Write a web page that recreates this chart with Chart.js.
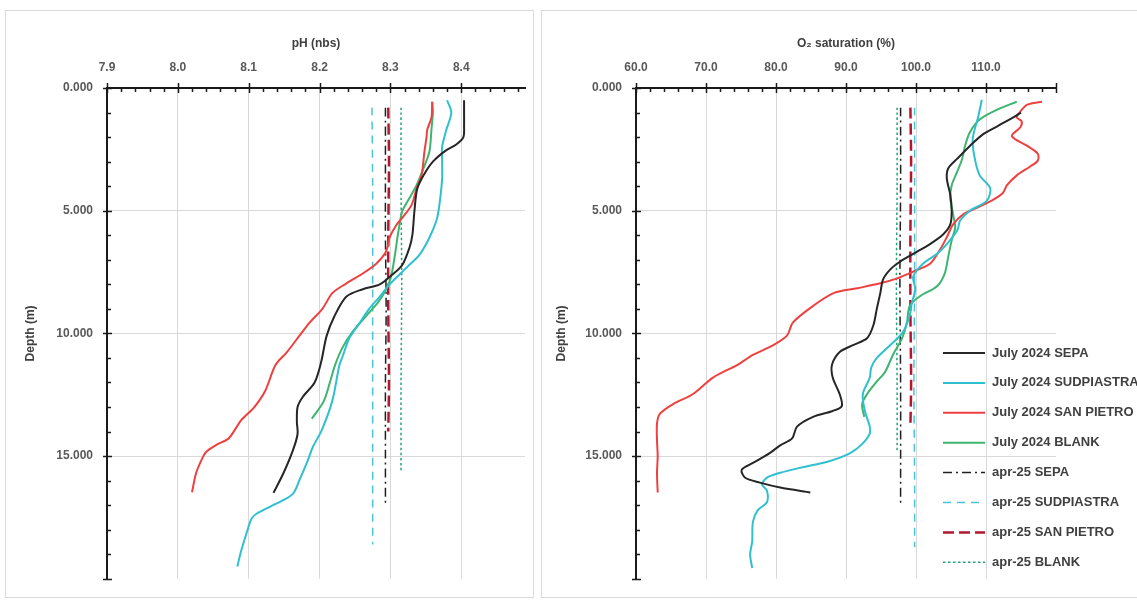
<!DOCTYPE html>
<html>
<head>
<meta charset="utf-8">
<script src="https://cdn.jsdelivr.net/npm/chart.js@4/dist/chart.umd.min.js"></script>
<style>
  html, body { margin: 0; padding: 0; background: #fff; }
  body { width: 1137px; height: 600px; position: relative; overflow: hidden; }
  .panel { position: absolute; border: 1px solid #d9d9d9; box-sizing: border-box; }
  canvas { position: absolute; top: 0; }
</style>
</head>
<body>
<div class="panel" style="left:5px;top:10px;width:529px;height:588px"></div>
<div class="panel" style="left:541px;top:10px;width:620px;height:588px"></div>
<canvas id="phChart" width="537" height="600" style="left:0"></canvas>
<canvas id="o2Chart" width="600" height="600" style="left:537px"></canvas>
<script>
// ---- axis ticks ----
const depthTicks = [0, 5, 10, 15];
const phTicks = [7.9, 8.0, 8.1, 8.2, 8.3, 8.4];
const o2Ticks = [60, 70, 80, 90, 100, 110];

// ---- series names ----
const seriesNames = [
  'July 2024 SEPA', 'July 2024 SUDPIASTRA', 'July 2024 SAN PIETRO', 'July 2024 BLANK',
  'apr-25 SEPA', 'apr-25 SUDPIASTRA', 'apr-25 SAN PIETRO', 'apr-25 BLANK'
];

// ---- pH profiles (depth in m, pH NBS) ----
const julSepaPhDepth = [0.5, 1.0, 1.5, 2.0, 2.3, 2.55, 3.0, 3.5, 4.1, 5.0, 6.0, 6.5, 7.2, 7.6, 8.0, 8.2, 8.5, 9.3, 10.1, 11.2, 12.0, 12.6, 13.0, 13.6, 14.1, 14.8, 15.7, 16.5];
const julSepaPh      = [8.404, 8.404, 8.404, 8.403, 8.393, 8.378, 8.360, 8.348, 8.338, 8.334, 8.331, 8.327, 8.317, 8.303, 8.285, 8.261, 8.238, 8.221, 8.210, 8.202, 8.193, 8.176, 8.169, 8.168, 8.169, 8.162, 8.149, 8.135];

const julSudPhDepth = [0.5, 1.0, 1.7, 2.4, 3.0, 3.7, 4.8, 5.4, 6.1, 6.8, 7.2, 7.6, 8.0, 8.5, 9.0, 9.6, 10.2, 10.9, 11.3, 12.75, 13.95, 14.6, 15.28, 15.95, 16.55, 16.95, 17.35, 17.55, 17.95, 18.9, 19.5];
const julSudPh      = [8.380, 8.386, 8.379, 8.373, 8.373, 8.373, 8.369, 8.365, 8.355, 8.341, 8.327, 8.313, 8.299, 8.285, 8.270, 8.256, 8.242, 8.233, 8.228, 8.218, 8.203, 8.191, 8.182, 8.172, 8.162, 8.138, 8.111, 8.104, 8.099, 8.089, 8.084];

const julSanPhDepth = [0.56, 1.2, 1.7, 2.0, 2.6, 3.56, 4.08, 4.76, 5.28, 5.6, 6.08, 6.48, 6.76, 7.16, 7.56, 7.96, 8.36, 9.0, 9.56, 10.08, 10.76, 11.28, 12.36, 13.0, 13.55, 14.27, 14.53, 14.8, 15.0, 15.67, 16.47];
const julSanPh      = [8.359, 8.358, 8.352, 8.351, 8.348, 8.344, 8.337, 8.330, 8.317, 8.308, 8.299, 8.296, 8.292, 8.280, 8.261, 8.238, 8.218, 8.204, 8.186, 8.172, 8.154, 8.138, 8.123, 8.108, 8.089, 8.072, 8.055, 8.041, 8.036, 8.026, 8.020];

const julBlankPhDepth = [0.56, 1.0, 1.68, 2.6, 3.4, 3.96, 4.48, 5.0, 5.56, 6.08, 6.88, 7.68, 8.2, 8.76, 9.28, 9.96, 10.6, 11.28, 11.96, 12.76, 13.48];
const julBlankPh      = [8.359, 8.360, 8.358, 8.355, 8.345, 8.337, 8.327, 8.317, 8.313, 8.310, 8.306, 8.301, 8.294, 8.282, 8.266, 8.246, 8.232, 8.222, 8.215, 8.206, 8.189];

const aprSepaPhDepth = [0.8, 3, 6, 9, 12, 15, 17.0];
const aprSepaPh      = [8.293, 8.293, 8.293, 8.294, 8.293, 8.293, 8.293];
const aprSudPhDepth  = [0.8, 4, 8, 12, 16, 18.6];
const aprSudPh       = [8.274, 8.275, 8.275, 8.275, 8.275, 8.275];
const aprSanPhDepth  = [0.8, 3, 6, 9, 12, 14.0];
const aprSanPh       = [8.297, 8.298, 8.297, 8.297, 8.298, 8.297];
const aprBlankPhDepth = [0.8, 4, 8, 12, 15.6];
const aprBlankPh      = [8.315, 8.315, 8.316, 8.315, 8.315];

// ---- O2 saturation profiles (depth in m, %) ----
const julSepaO2Depth = [1.0, 1.2, 1.56, 1.88, 2.36, 2.88, 3.28, 3.68, 4.36, 5.0, 5.56, 5.96, 6.36, 6.76, 7.08, 7.4, 7.8, 8.36, 9.0, 9.68, 10.2, 10.48, 10.76, 11.28, 11.8, 12.48, 12.96, 13.16, 13.4, 13.8, 14.28, 14.56, 14.88, 15.28, 15.56, 15.88, 16.08, 16.28, 16.48];
const julSepaO2      = [115.0, 113.9, 111.6, 109.6, 107.7, 105.9, 104.6, 104.4, 104.9, 105.1, 104.9, 103.9, 102.0, 99.6, 97.7, 96.3, 95.3, 94.9, 94.4, 93.9, 93.0, 91.0, 89.1, 88.0, 88.1, 89.1, 89.4, 88.1, 85.3, 83.0, 82.3, 80.6, 79.1, 76.7, 75.1, 75.6, 77.7, 80.6, 84.9];

const julSudO2Depth = [0.48, 1.16, 2.08, 2.88, 3.56, 4.08, 4.6, 5.0, 5.4, 5.8, 6.36, 6.76, 7.16, 7.68, 8.2, 8.76, 9.28, 9.96, 10.48, 11.0, 11.4, 11.8, 12.48, 13.16, 13.8, 14.08, 14.48, 14.88, 15.2, 15.48, 15.68, 15.88, 16.16, 16.4, 16.88, 17.2, 17.68, 18.48, 19.0, 19.56];
const julSudO2      = [109.4, 108.9, 108.1, 108.4, 109.1, 110.6, 110.1, 107.7, 106.3, 105.9, 104.4, 103.0, 101.0, 99.6, 99.9, 99.4, 99.1, 98.1, 96.3, 94.4, 93.6, 93.4, 92.4, 92.7, 93.4, 93.4, 92.4, 90.6, 87.7, 83.4, 80.6, 78.7, 78.0, 78.7, 78.7, 77.4, 76.7, 76.6, 76.3, 76.6];

const julSanO2Depth = [0.56, 0.68, 0.96, 1.2, 1.36, 1.6, 1.96, 2.36, 2.68, 2.96, 3.2, 3.56, 3.96, 4.28, 4.56, 4.88, 5.16, 5.56, 6.08, 6.6, 7.16, 7.48, 7.76, 7.96, 8.16, 8.35, 8.88, 9.56, 10.08, 10.48, 10.88, 11.28, 11.8, 12.48, 12.88, 13.28, 13.68, 14.36, 15.0, 15.68, 16.48];
const julSanO2      = [118.0, 115.9, 114.9, 114.4, 115.1, 114.9, 113.7, 115.9, 117.4, 117.4, 116.3, 114.4, 113.0, 112.4, 111.0, 108.7, 106.7, 105.3, 104.4, 103.4, 102.0, 99.6, 97.3, 94.9, 91.6, 88.3, 85.3, 82.4, 81.6, 79.6, 76.7, 74.5, 71.0, 68.1, 65.3, 63.4, 63.0, 63.0, 63.1, 63.0, 63.1];

const julBlankO2Depth = [0.56, 0.88, 1.28, 1.8, 2.36, 2.88, 3.4, 3.96, 4.48, 5.16, 5.68, 6.2, 6.88, 7.56, 8.08, 8.48, 8.88, 9.56, 10.2, 10.88, 11.56, 11.96, 12.48, 12.88, 13.4];
const julBlankO2      = [114.4, 111.6, 109.1, 107.7, 107.0, 106.6, 105.9, 105.1, 104.9, 105.3, 105.6, 105.1, 104.6, 104.1, 103.0, 100.6, 99.1, 98.7, 98.0, 96.7, 95.6, 94.4, 93.0, 92.3, 92.6];

const aprSepaO2Depth = [0.8, 4, 8, 12, 16.9];
const aprSepaO2      = [97.8, 97.8, 97.7, 97.8, 97.8];
const aprSudO2Depth  = [0.8, 4, 8, 12, 16, 18.7];
const aprSudO2       = [99.8, 99.8, 99.8, 99.7, 99.8, 99.8];
const aprSanO2Depth  = [0.8, 3, 6, 9, 12, 13.8];
const aprSanO2       = [99.2, 99.3, 99.2, 99.2, 99.3, 99.2];
const aprBlankO2Depth = [0.8, 4, 8, 12, 14.8];
const aprBlankO2      = [97.3, 97.3, 97.2, 97.3, 97.3];

// ---- line styles, in legend order ----
const lineStyles = [
  { color: '#262626', width: 2,   dash: [] },
  { color: '#2fc0d0', width: 2,   dash: [] },
  { color: '#ef4040', width: 2,   dash: [] },
  { color: '#3db56f', width: 2,   dash: [] },
  { color: '#1f1f1f', width: 1.5, dash: [9, 4, 2, 4] },
  { color: '#4cc3dd', width: 1.5, dash: [8, 6] },
  { color: '#b3172f', width: 2.5, dash: [11, 5] },
  { color: '#23a37a', width: 1.5, dash: [2.5, 2.5] }
];

const FONT = '"Liberation Sans", Arial, sans-serif';
Chart.defaults.font.family = FONT;

function toPoints(values, depths) {
  return values.map((v, i) => ({ x: v, y: depths[i] }));
}

function makeDatasets(series) {
  return series.map(([values, depths], i) => ({
    label: seriesNames[i],
    data: toPoints(values, depths),
    showLine: true,
    borderColor: lineStyles[i].color,
    backgroundColor: lineStyles[i].color,
    borderWidth: lineStyles[i].width,
    borderDash: lineStyles[i].dash,
    pointRadius: 0,
    tension: 0.3,
    fill: false
  }));
}

// Major/minor tick marks on the top and left axes
const axisMarks = {
  id: 'axisMarks',
  afterDraw(chart, args, o) {
    const { ctx, chartArea, scales: { x, y } } = chart;
    ctx.save();
    ctx.strokeStyle = '#1a1a1a';
    ctx.lineWidth = 1.5;
    ctx.beginPath();
    const nx = Math.floor((x.max - x.min) / o.xMinor + 1e-6);
    for (let i = 0; i <= nx; i++) {
      const v = x.min + i * o.xMinor;
      const r = v / o.xMajor;
      const major = Math.abs(r - Math.round(r)) < 1e-6;
      const px = Math.round(x.getPixelForValue(v)) + 0.5;
      ctx.moveTo(px, chartArea.top - (major ? 5 : 0));
      ctx.lineTo(px, chartArea.top + (major ? 5 : 4));
    }
    const ny = Math.floor((y.max - y.min) / o.yMinor + 1e-6);
    for (let i = 0; i <= ny; i++) {
      const v = y.min + i * o.yMinor;
      const r = v / o.yMajor;
      const major = Math.abs(r - Math.round(r)) < 1e-6;
      const py = Math.round(y.getPixelForValue(v)) + 0.5;
      ctx.moveTo(chartArea.left - (major ? 4 : 0), py);
      ctx.lineTo(chartArea.left + (major ? 5 : 4), py);
    }
    ctx.stroke();
    ctx.restore();
  }
};

// Legend block drawn inside the oxygen plot
const legendBlock = {
  id: 'legendBlock',
  afterDraw(chart, args, o) {
    const ctx = chart.ctx;
    ctx.save();
    chart.data.datasets.forEach((ds, i) => {
      const yy = o.top + i * o.rowGap;
      ctx.strokeStyle = ds.borderColor;
      ctx.lineWidth = ds.borderWidth;
      ctx.setLineDash(ds.borderDash || []);
      ctx.beginPath();
      ctx.moveTo(o.left, yy);
      ctx.lineTo(o.left + o.sample, yy);
      ctx.stroke();
      ctx.setLineDash([]);
      ctx.fillStyle = '#404040';
      ctx.font = 'bold 13px ' + FONT;
      ctx.textBaseline = 'middle';
      ctx.fillText(ds.label, o.left + o.sample + 7, yy);
    });
    ctx.restore();
  }
};

function makeOptions(cfg) {
  const titleFont = { size: 12, weight: 'bold' };
  const tickFont = { size: 12, weight: 'bold' };
  return {
    responsive: false,
    animation: false,
    layout: { padding: { left: 0, top: 0, right: cfg.padRight, bottom: 12 } },
    plugins: {
      legend: { display: false },
      tooltip: { enabled: false },
      axisMarks: cfg.marks,
      legendBlock: cfg.legend || {}
    },
    scales: {
      x: {
        type: 'linear',
        position: 'top',
        min: cfg.xMin,
        max: cfg.xMax,
        afterBuildTicks: s => { s.ticks = cfg.xTicks.map(v => ({ value: v })); },
        afterFit: s => { s.height = 88; },
        ticks: {
          autoSkip: false, maxRotation: 0, padding: 13,
          color: '#595959', font: tickFont,
          callback: v => Number(v).toFixed(1)
        },
        grid: { color: '#d9d9d9', lineWidth: 1, drawTicks: false },
        border: { display: true, color: '#1a1a1a', width: 2 },
        title: {
          display: true, text: cfg.xTitle, color: '#404040', font: titleFont,
          padding: { top: 36, bottom: 0 }
        }
      },
      y: {
        type: 'linear',
        reverse: true,
        min: 0,
        max: 20,
        afterBuildTicks: s => { s.ticks = depthTicks.map(v => ({ value: v })); },
        afterFit: s => { s.width = cfg.yWidth; },
        ticks: {
          autoSkip: false, padding: 14,
          color: '#595959', font: tickFont,
          callback: v => Number(v).toFixed(3)
        },
        grid: { color: '#d9d9d9', lineWidth: 1, drawTicks: false },
        border: { display: true, color: '#1a1a1a', width: 2 },
        title: {
          display: true, text: 'Depth (m)', color: '#404040', font: titleFont,
          padding: { top: cfg.yTitlePad, bottom: 0 }
        }
      }
    }
  };
}

new Chart(document.getElementById('phChart'), {
  type: 'scatter',
  data: {
    datasets: makeDatasets([
      [julSepaPh, julSepaPhDepth], [julSudPh, julSudPhDepth],
      [julSanPh, julSanPhDepth], [julBlankPh, julBlankPhDepth],
      [aprSepaPh, aprSepaPhDepth], [aprSudPh, aprSudPhDepth],
      [aprSanPh, aprSanPhDepth], [aprBlankPh, aprBlankPhDepth]
    ])
  },
  options: makeOptions({
    xMin: 7.9, xMax: 8.49, xTicks: phTicks, xTitle: 'pH (nbs)',
    yWidth: 107, yTitlePad: 23, padRight: 12,
    marks: { xMinor: 0.02, xMajor: 0.1, yMinor: 1, yMajor: 5 }
  }),
  plugins: [axisMarks]
});

new Chart(document.getElementById('o2Chart'), {
  type: 'scatter',
  data: {
    datasets: makeDatasets([
      [julSepaO2, julSepaO2Depth], [julSudO2, julSudO2Depth],
      [julSanO2, julSanO2Depth], [julBlankO2, julBlankO2Depth],
      [aprSepaO2, aprSepaO2Depth], [aprSudO2, aprSudO2Depth],
      [aprSanO2, aprSanO2Depth], [aprBlankO2, aprBlankO2Depth]
    ])
  },
  options: makeOptions({
    xMin: 60, xMax: 120, xTicks: o2Ticks, xTitle: 'O\u2082 saturation (%)',
    yWidth: 99, yTitlePad: 17, padRight: 81,
    marks: { xMinor: 2, xMajor: 10, yMinor: 1, yMajor: 5 },
    legend: { left: 406, sample: 42, top: 353, rowGap: 29.9 }
  }),
  plugins: [axisMarks, legendBlock]
});
</script>
</body>
</html>
